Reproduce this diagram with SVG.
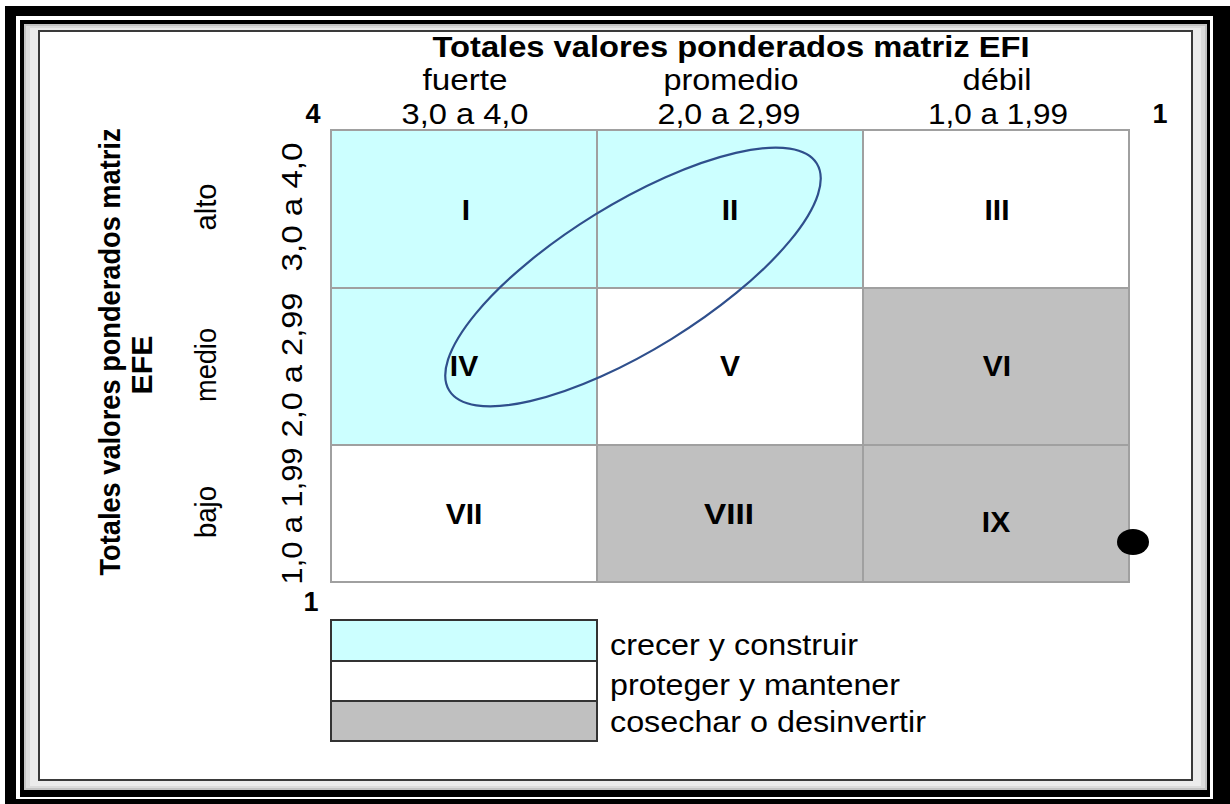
<svg xmlns="http://www.w3.org/2000/svg" width="1230" height="804" viewBox="0 0 1230 804">
<defs>
<style>
text{font-family:"Liberation Sans",Arial,sans-serif;fill:#000}
.t{font-size:30px;text-anchor:middle}
.b{font-weight:bold}
.n{font-size:30px;font-weight:bold;text-anchor:middle}
.lg{font-size:30px}
.cell{stroke:#a0a0a0;stroke-width:2}
.cy{fill:#ccffff}
.wh{fill:#ffffff}
.gr{fill:#c0c0c0}
.leg{stroke:#333;stroke-width:2}
</style>
</defs>
<rect x="0" y="0" width="1230" height="804" fill="#fff"/>
<g id="frame">
<rect x="5" y="6" width="1225" height="798" fill="#000"/>
<rect x="16" y="16" width="1197" height="783" fill="#fff"/>
<rect x="20" y="20" width="1190" height="777" fill="#000"/>
<rect x="24" y="24" width="1183" height="766" fill="#c4c4c4"/>
<rect x="26" y="26" width="1179" height="762" fill="#dcdcdc"/>
<rect x="30" y="28" width="1171" height="758" fill="#ececec"/>
<rect x="39" y="31" width="1153" height="749" fill="#fff" stroke="#3a3a3a" stroke-width="2"/>
</g>
<g id="header">
<text class="t b" x="731" y="57" textLength="597" lengthAdjust="spacingAndGlyphs">Totales valores ponderados matriz EFI</text>
<text class="t" x="465" y="90" textLength="85" lengthAdjust="spacingAndGlyphs">fuerte</text>
<text class="t" x="731" y="90" textLength="135" lengthAdjust="spacingAndGlyphs">promedio</text>
<text class="t" x="997" y="90" textLength="69" lengthAdjust="spacingAndGlyphs">débil</text>
<text class="t" x="465" y="124" textLength="127" lengthAdjust="spacingAndGlyphs">3,0 a 4,0</text>
<text class="t" x="729" y="124" textLength="143" lengthAdjust="spacingAndGlyphs">2,0 a 2,99</text>
<text class="t" x="998" y="124" textLength="140" lengthAdjust="spacingAndGlyphs">1,0 a 1,99</text>
<text class="t b" x="313" y="123" style="font-size:27px">4</text>
<text class="t b" x="1160" y="123" style="font-size:27px">1</text>
<text class="t b" x="311" y="611" style="font-size:27px">1</text>
</g>
<g id="side">
<text class="t b" transform="translate(120,352) rotate(-90)" textLength="447" lengthAdjust="spacingAndGlyphs">Totales valores ponderados matriz</text>
<text class="t b" transform="translate(152,365) rotate(-90)" textLength="59" lengthAdjust="spacingAndGlyphs">EFE</text>
<text class="t" transform="translate(216,207) rotate(-90)" textLength="47" lengthAdjust="spacingAndGlyphs">alto</text>
<text class="t" transform="translate(216,365) rotate(-90)" textLength="74" lengthAdjust="spacingAndGlyphs">medio</text>
<text class="t" transform="translate(216,512) rotate(-90)" textLength="52" lengthAdjust="spacingAndGlyphs">bajo</text>
<text class="t" transform="translate(302,207) rotate(-90)" textLength="129" lengthAdjust="spacingAndGlyphs">3,0 a 4,0</text>
<text class="t" transform="translate(302,365) rotate(-90)" textLength="145" lengthAdjust="spacingAndGlyphs">2,0 a 2,99</text>
<text class="t" transform="translate(302,516) rotate(-90)" textLength="137" lengthAdjust="spacingAndGlyphs">1,0 a 1,99</text>
</g>
<g id="cell-I"><rect class="cell cy" x="331" y="130" width="266" height="158"/><text class="n" x="466" y="220">I</text></g>
<g id="cell-II"><rect class="cell cy" x="597" y="130" width="266" height="158"/><text class="n" x="730" y="220">II</text></g>
<g id="cell-III"><rect class="cell wh" x="863" y="130" width="266" height="158"/><text class="n" x="997" y="220">III</text></g>
<g id="cell-IV"><rect class="cell cy" x="331" y="288" width="266" height="157"/><text class="n" x="464" y="376">IV</text></g>
<g id="cell-V"><rect class="cell wh" x="597" y="288" width="266" height="157"/><text class="n" x="730" y="376">V</text></g>
<g id="cell-VI"><rect class="cell gr" x="863" y="288" width="266" height="157"/><text class="n" x="997" y="376">VI</text></g>
<g id="cell-VII"><rect class="cell wh" x="331" y="445" width="266" height="137"/><text class="n" x="464" y="524">VII</text></g>
<g id="cell-VIII"><rect class="cell gr" x="597" y="445" width="266" height="137"/><text class="n" x="729" y="524" textLength="50" lengthAdjust="spacingAndGlyphs">VIII</text></g>
<g id="cell-IX"><rect class="cell gr" x="863" y="445" width="266" height="137"/><text class="n" x="996" y="532">IX</text></g>
<g id="highlight">
<ellipse cx="633" cy="277" rx="216" ry="73" transform="rotate(-31.7 633 277)" fill="none" stroke="#2f4f8c" stroke-width="2.2"/>
</g>
<g id="marker-dot"><ellipse cx="1133" cy="542" rx="16" ry="13" fill="#000"/></g>
<g id="legend">
<rect class="leg cy" x="331" y="620" width="266" height="41"/>
<rect class="leg wh" x="331" y="661" width="266" height="40"/>
<rect class="leg gr" x="331" y="701" width="266" height="40"/>
<text class="lg" x="610" y="655" textLength="248" lengthAdjust="spacingAndGlyphs">crecer y construir</text>
<text class="lg" x="610" y="695" textLength="290" lengthAdjust="spacingAndGlyphs">proteger y mantener</text>
<text class="lg" x="610" y="732" textLength="316" lengthAdjust="spacingAndGlyphs">cosechar o desinvertir</text>
</g>
</svg>
